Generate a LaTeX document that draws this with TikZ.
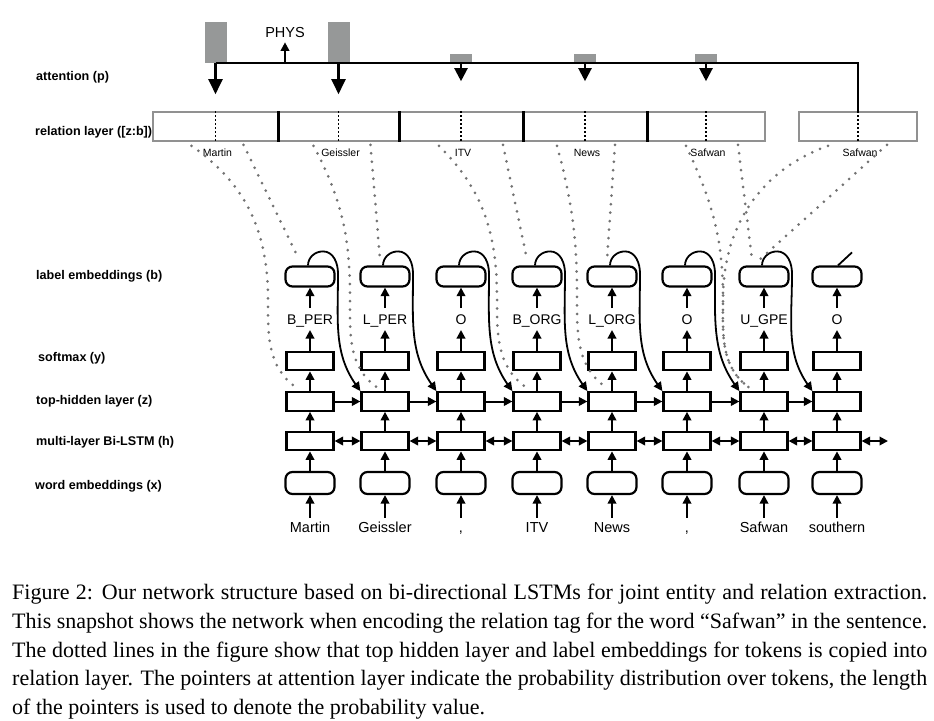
\documentclass[tikz,border=0pt]{standalone}
\usepackage{fontspec}
\setmainfont{Liberation Serif}
\setsansfont{Liberation Sans}
\usepackage{tikz}
\usetikzlibrary{arrows.meta}

\definecolor{dotgray}{RGB}{115,115,115}
\definecolor{bargray}{RGB}{150,152,152}
\definecolor{edgegray}{RGB}{145,145,145}

\tikzset{
  sbox/.style={draw, line width=2.2pt, minimum width=47pt, minimum height=18.5pt, inner sep=0pt},
  lbox/.style={draw, line width=2.2pt, rounded corners=7pt, minimum width=49pt, minimum height=20pt, inner sep=0pt},
  tag/.style={font=\sffamily\fontsize{14}{16}\selectfont, anchor=base, text height=10pt, text depth=0pt, inner sep=0pt, outer sep=6pt},
  word/.style={font=\sffamily\fontsize{14.5}{16}\selectfont, anchor=base, text height=10.5pt, text depth=3pt, inner sep=0pt, outer sep=4pt},
  upar/.style={line width=2pt, -{Triangle[width=8.5pt,length=8.5pt]}},
  biar/.style={line width=2pt, {Triangle[width=8.5pt,length=8.5pt]}-{Triangle[width=8.5pt,length=8.5pt]}},
  loopar/.style={line width=1.8pt, -{Triangle[width=8.5pt,length=9pt]}},
  copyline/.style={draw=dotgray, line width=3pt, line cap=round, dash pattern=on 0pt off 8.5pt},
  rcell/.style={draw=edgegray, line width=1.6pt, minimum height=29pt, inner sep=0pt},
  cellsep/.style={line width=2.8pt},
  cellmark/.style={line width=1.8pt, dash pattern=on 2pt off 2pt},
  rname/.style={font=\sffamily\fontsize{10.5}{12}\selectfont, inner sep=0pt},
  layername/.style={font=\sffamily\bfseries\fontsize{12.6}{14}\selectfont, anchor=west, inner sep=0pt},
  pbar/.style={fill=bargray, minimum width=22pt, inner sep=0pt, anchor=south},
  attline/.style={line width=2.2pt},
  bigptr/.style={line width=2.2pt, -{Triangle[width=14pt,length=15pt]}},
  smallptr/.style={line width=2.2pt, -{Triangle[width=13pt,length=13pt]}},
  physar/.style={line width=2pt, -{Triangle[width=8.5pt,length=8.5pt]}}
}

\begin{document}
\begin{tikzpicture}[x=1pt,y=1pt]
\useasboundingbox (0,0) rectangle (934,-720);

\node[layername] (lp) at (36,-77) {attention (p)};
\node[layername] (lr) at (35,-132) {relation layer ([z:b])};
\node[layername] (lb) at (36,-276) {label embeddings (b)};
\node[layername] (ly) at (38,-358) {softmax (y)};
\node[layername] (lz) at (36,-401) {top-hidden layer (z)};
\node[layername] (lh) at (36,-442) {multi-layer Bi-LSTM (h)};
\node[layername] (lx) at (35,-486) {word embeddings (x)};

\foreach \x/\cw [count=\k] in {215.5/125,338.5/121,461/124,585/124,706/118,858/118}
  \node[rcell, minimum width=\cw pt] (c\k) at (\x,-126.5) {};
\foreach \k in {1,...,4}
  \draw[cellsep] (c\k.north east) -- (c\k.south east);
\foreach \k in {1,...,6}
  \draw[cellmark] (c\k.north) -- (c\k.south);
\foreach \tok [count=\k] in {Martin,Geissler,ITV,News,Safwan,Safwan}
  \node[rname] (r\k) at ([xshift=2pt,yshift=-11pt]c\k.south) {\tok};

\coordinate (pline) at (0,-63);
\node[pbar, minimum height=41pt] (p1) at (c1.north |- pline) {};
\node[pbar, minimum height=41pt] (p2) at (c2.north |- pline) {};
\node[pbar, minimum height=9pt] (p3) at (c3.north |- pline) {};
\node[pbar, minimum height=9pt] (p4) at (c4.north |- pline) {};
\node[pbar, minimum height=9pt] (p5) at (c5.north |- pline) {};
\draw[attline] (p1.south) -- (c6.north |- pline) -- (c6.north);
\draw[bigptr, shorten >=17pt] (p1.south) -- (c1.north);
\draw[bigptr, shorten >=17pt] (p2.south) -- (c2.north);
\foreach \k in {3,4,5}
  \draw[smallptr, shorten >=30pt] (p\k.south) -- (c\k.north);
\node[font=\sffamily\fontsize{14.5}{16}\selectfont, inner sep=0pt] (phys) at (285,-33) {PHYS};
\draw[physar, shorten >=4pt] (phys.south |- pline) -- (phys.south);

\foreach \x/\w/\lab [count=\i] in {310/Martin/B\_PER,385/Geissler/L\_PER,461/{,}/O,537/ITV/B\_ORG,
    612/News/L\_ORG,687/{,}/O,764/Safwan/U\_GPE,837/southern/O} {
  \node[lbox] (b\i) at (\x,-276.5) {};
  \node[tag] (l\i) at (\x,-324) {\lab};
  \node[sbox] (y\i) at (\x,-361) {};
  \node[sbox] (z\i) at (\x,-401.5) {};
  \node[sbox] (h\i) at (\x,-441) {};
  \node[lbox, minimum height=22pt] (x\i) at (\x,-483) {};
  \node[word] (w\i) at (\x,-532) {\w};
  \draw[upar] (w\i) -- (x\i);
  \draw[upar] (x\i) -- (h\i);
  \draw[upar] (h\i) -- (z\i);
  \draw[upar] (z\i) -- (y\i);
  \draw[upar] (y\i) -- (l\i);
  \draw[upar] (l\i) -- (b\i);
}

\foreach \i/\j in {1/2,2/3,3/4,4/5,5/6,6/7,7/8} {
  \draw[upar] (z\i) -- (z\j);
  \draw[biar] (h\i) -- (h\j);
  \draw[loopar] ([xshift=-2pt]b\i.north) to[out=90,in=180] ++(15,14)
    to[out=0,in=90] ++(15,-22) to[out=-90,in=125] (z\j.north west);
}
\coordinate (hend) at (888,-441);
\draw[biar] (h8) -- (hend);
\draw[line width=1.8pt] ([xshift=1pt]b8.north) -- ++(14,13);

\foreach \k/\col/\lsx/\ang/\mdx/\lex/\rsx/\rex in {1/1/-24/-35/-42/-13/28/-11,
    2/2/-25/-62/-35/-7/32/-5, 3/4/-22/-45/-40/-10/42/-10, 4/5/-28/-75/-35/-5/30/-5,
    5/7/-20/-65/-41/-14/32/-12, 6/7/-30/200/-41/-14/29/-4} {
  \draw[copyline] ([xshift=\lsx pt,yshift=-4pt]c\k.south) to[out=\ang,in=90]
    ([xshift=\mdx pt,yshift=92pt]z\col.north) to[out=-90,in=145] ([xshift=\lex pt,yshift=3pt]z\col.north);
  \draw[copyline] ([xshift=\rsx pt,yshift=-3pt]c\k.south) -- ([xshift=\rex pt,yshift=6pt]b\col.north);
}

\node[anchor=north west, inner sep=0pt, text width=915pt, align=justify,
  font=\rmfamily\fontsize{22}{28.75}\selectfont] (cap) at (12,-584) {\hyphenpenalty=10000
  Figure 2: Our network structure based on bi-directional LSTMs for joint entity and relation extraction.\linebreak
  This snapshot shows the network when encoding the relation tag for the word “Safwan” in the sentence.\linebreak
  The dotted lines in the figure show that top hidden layer and label embeddings for tokens is copied into\linebreak
  relation layer. The pointers at attention layer indicate the probability distribution over tokens, the length\linebreak
  of the pointers is used to denote the probability value.};
\end{tikzpicture}
\end{document}
